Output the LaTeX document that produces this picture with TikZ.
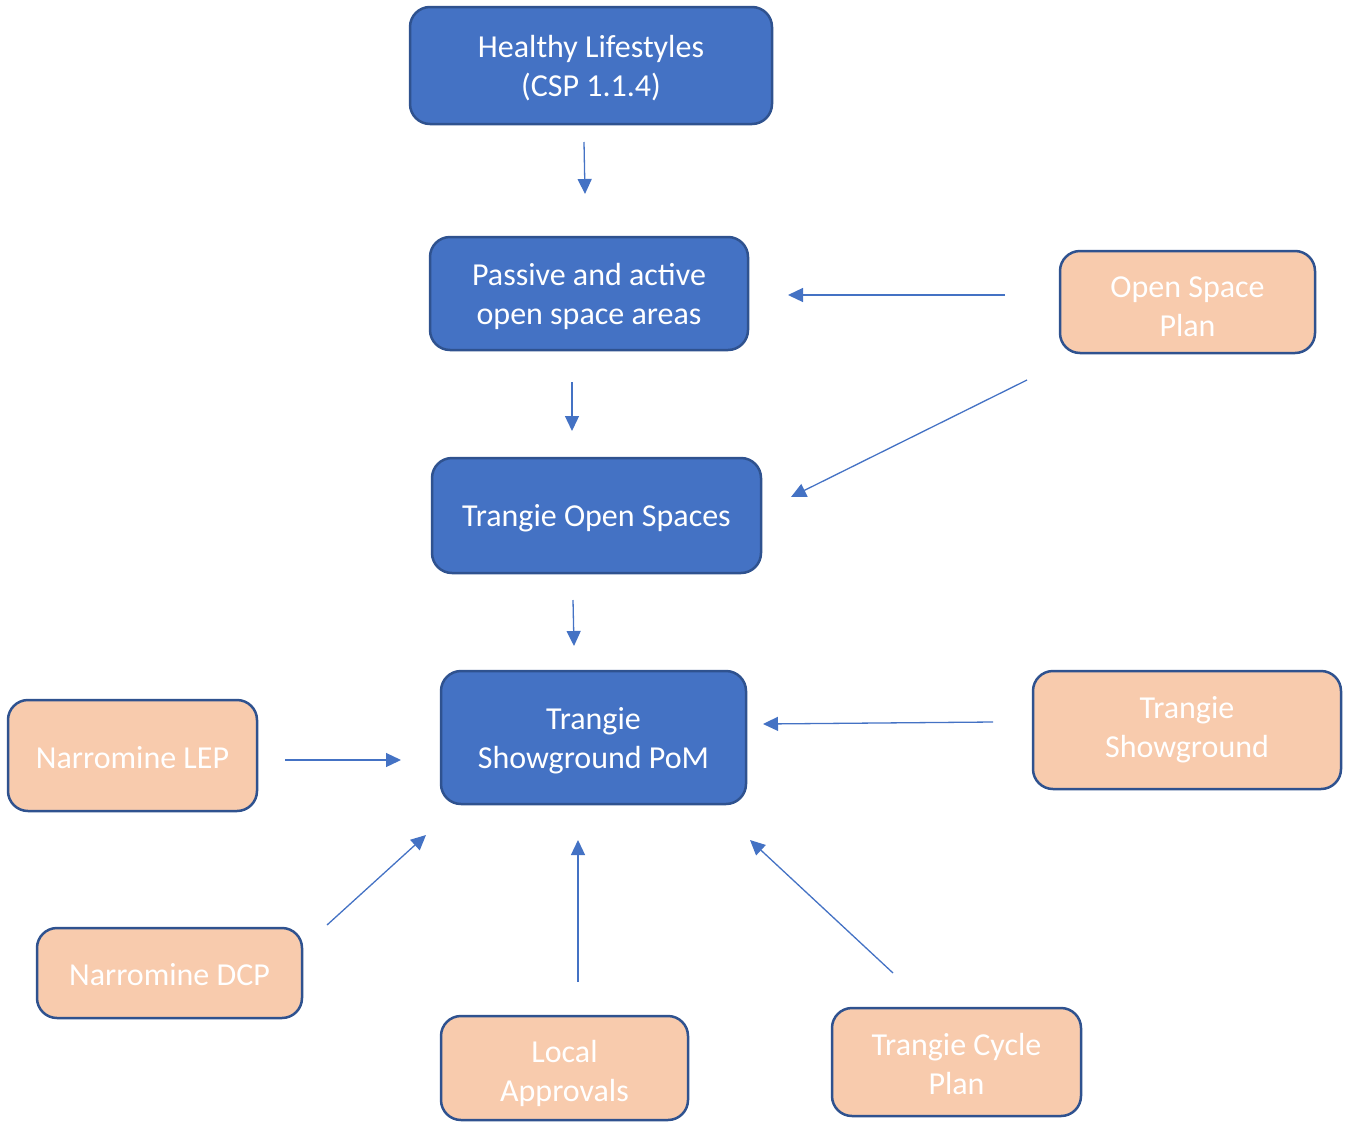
\documentclass[tikz,border=0pt]{standalone}
\usepackage{fontspec}
\setmainfont{Carlito}
\usetikzlibrary{arrows.meta}
\definecolor{bluefill}{HTML}{4472C4}
\definecolor{blueline}{HTML}{2F528F}
\definecolor{peach}{HTML}{F8CBAD}
\tikzset{
  box/.style={rectangle, rounded corners=20pt, draw=blueline, line width=2.5pt, inner sep=0pt},
  bluebox/.style={box, fill=bluefill},
  peachbox/.style={box, fill=peach},
  lbl/.style={text=white, align=center, font=\fontsize{32}{39}\selectfont, inner sep=0pt},
  conn/.style={draw=bluefill, line width=1.3pt, -{Triangle[length=15pt,width=14pt]}}
}
\begin{document}
\begin{tikzpicture}[x=1pt,y=-1pt]
\useasboundingbox (0,0) rectangle (1346,1122);
% blue boxes
\node[bluebox, minimum width=362pt, minimum height=117pt,
  label={[lbl,yshift=-3pt]center:{Healthy Lifestyles\\(CSP 1.1.4)}}] (hl) at (591,65.5) {};
\node[bluebox, minimum width=318pt, minimum height=113pt,
  label={[lbl,yshift=-3pt]center:{Passive and active\\open space areas}}] (pa) at (589,293.5) {};
\node[bluebox, minimum width=329pt, minimum height=115pt,
  label={[lbl,yshift=-3pt]center:{Trangie Open Spaces}}] (tos) at (596.5,515.5) {};
\node[bluebox, minimum width=305pt, minimum height=133pt,
  label={[lbl,yshift=-3pt]center:{Trangie\\Showground PoM}}] (pom) at (593.5,737.5) {};
% peach boxes
\node[peachbox, minimum width=255pt, minimum height=102pt,
  label={[lbl,yshift=-5pt]center:{Open Space\\Plan}}] (osp) at (1187.5,302) {};
\node[peachbox, minimum width=308pt, minimum height=118pt,
  label={[lbl]center:{Trangie\\Showground}}] (tsg) at (1187,730) {};
\node[peachbox, minimum width=249pt, minimum height=111pt,
  label={[lbl,yshift=-2pt]center:{Narromine LEP}}] (lep) at (132.5,755.5) {};
\node[peachbox, minimum width=265pt, minimum height=90pt,
  label={[lbl,yshift=-2pt]center:{Narromine DCP}}] (dcp) at (169.5,973) {};
\node[peachbox, minimum width=247pt, minimum height=104pt,
  label={[lbl,yshift=-5pt]center:{Local\\Approvals}}] (la) at (564.5,1068) {};
\node[peachbox, minimum width=249pt, minimum height=108pt,
  label={[lbl,yshift=-2pt]center:{Trangie Cycle\\Plan}}] (tcp) at (956.5,1062) {};
% connector end points
\coordinate (a1s) at (584,142); \coordinate (a1e) at (585,194);
\coordinate (a2s) at (1005,295); \coordinate (a2e) at (788,295);
\coordinate (a3s) at (572,382); \coordinate (a3e) at (572,431);
\coordinate (a4s) at (1027,380); \coordinate (a4e) at (791,497);
\coordinate (a5s) at (573,600); \coordinate (a5e) at (574,646);
\coordinate (a6s) at (993,722); \coordinate (a6e) at (763,724);
\coordinate (a7s) at (285,760); \coordinate (a7e) at (401,760);
\coordinate (a8s) at (327,925); \coordinate (a8e) at (426,835);
\coordinate (a9s) at (578,982); \coordinate (a9e) at (578,840);
\coordinate (a10s) at (893,973); \coordinate (a10e) at (750,840);
\draw[conn] (a1s) -- (a1e);
\draw[conn] (a2s) -- (a2e);
\draw[conn] (a3s) -- (a3e);
\draw[conn] (a4s) -- (a4e);
\draw[conn] (a5s) -- (a5e);
\draw[conn] (a6s) -- (a6e);
\draw[conn] (a7s) -- (a7e);
\draw[conn] (a8s) -- (a8e);
\draw[conn] (a9s) -- (a9e);
\draw[conn] (a10s) -- (a10e);
\end{tikzpicture}
\end{document}
